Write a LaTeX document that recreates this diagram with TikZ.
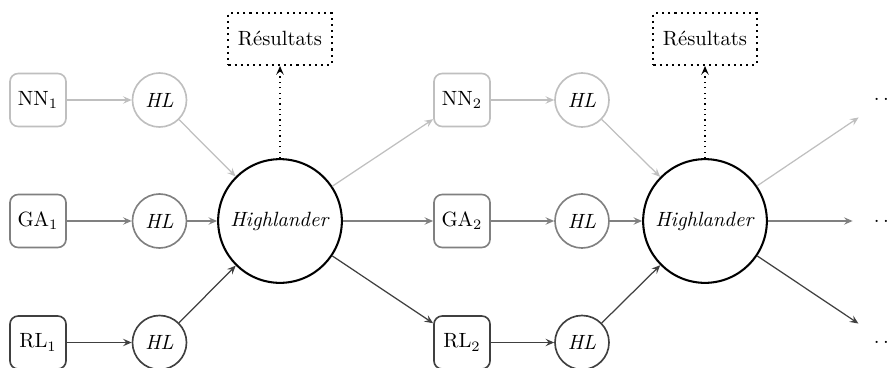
\documentclass[tikz,border=0pt]{standalone}
\usetikzlibrary{arrows.meta}
\begin{document}
\begin{tikzpicture}[x=0.485pt,y=-0.485pt,
  algbox/.style={draw,rounded corners=4pt,line width=0.8pt,minimum width=27.2pt,minimum height=25.7pt,inner sep=1pt},
  hlnode/.style={draw,circle,line width=0.8pt,minimum size=26.2pt,inner sep=0pt},
  hinode/.style={draw,circle,line width=1pt,minimum size=60pt,inner sep=0pt},
  resbox/.style={draw,dotted,line width=1pt,minimum width=50pt,minimum height=25.2pt,inner sep=1pt},
  dotsnode/.style={minimum width=32pt,minimum height=17.5pt,inner sep=0pt},
  conn/.style={line width=0.6pt,-{Stealth[length=4.2pt,width=3.6pt,inset=1.6pt]}},
  light/.style={gray!50},
  mid/.style={gray},
  dark/.style={black!75}]
\useasboundingbox (0,0) rectangle (891,367);
% column 1
\node[algbox,light,text=black] (NN1) at (38,100) {NN$_1$};
\node[algbox,mid,text=black] (GA1) at (38,221) {GA$_1$};
\node[algbox,dark,text=black] (RL1) at (38,342.5) {RL$_1$};
\node[hlnode,light,text=black] (HLn1) at (159.5,100) {\textit{HL}};
\node[hlnode,mid,text=black] (HLg1) at (159.5,221) {\textit{HL}};
\node[hlnode,dark,text=black] (HLr1) at (159.5,342.5) {\textit{HL}};
\node[hinode] (H1) at (280,221) {\textit{Highlander}};
\node[resbox] (R1) at (280,39) {Résultats};
% column 2
\node[algbox,light,text=black] (NN2) at (462,100) {NN$_2$};
\node[algbox,mid,text=black] (GA2) at (462,221) {GA$_2$};
\node[algbox,dark,text=black] (RL2) at (462,342.5) {RL$_2$};
\node[hlnode,light,text=black] (HLn2) at (582,100) {\textit{HL}};
\node[hlnode,mid,text=black] (HLg2) at (582,221) {\textit{HL}};
\node[hlnode,dark,text=black] (HLr2) at (582,342.5) {\textit{HL}};
\node[hinode] (H2) at (705,221) {\textit{Highlander}};
\node[resbox] (R2) at (705,39) {Résultats};
% continuation
\node[dotsnode] (Dn) at (886,99) {$\ldots$};
\node[dotsnode] (Dg) at (886,221) {$\ldots$};
\node[dotsnode] (Dr) at (886,342) {$\ldots$};
% connectors column 1
\draw[conn,light] (NN1) -- (HLn1);
\draw[conn,mid] (GA1) -- (HLg1);
\draw[conn,dark] (RL1) -- (HLr1);
\draw[conn,light] (HLn1) -- (H1);
\draw[conn,mid] (HLg1) -- (H1);
\draw[conn,dark] (HLr1) -- (H1);
\draw[conn,dotted,line width=1pt] (H1) -- (R1);
\draw[conn,light] (H1) -- (NN2);
\draw[conn,mid] (H1) -- (GA2);
\draw[conn,dark] (H1) -- (RL2);
% connectors column 2
\draw[conn,light] (NN2) -- (HLn2);
\draw[conn,mid] (GA2) -- (HLg2);
\draw[conn,dark] (RL2) -- (HLr2);
\draw[conn,light] (HLn2) -- (H2);
\draw[conn,mid] (HLg2) -- (H2);
\draw[conn,dark] (HLr2) -- (H2);
\draw[conn,dotted,line width=1pt] (H2) -- (R2);
\draw[conn,light] (H2) -- (Dn);
\draw[conn,mid] (H2) -- (Dg);
\draw[conn,dark] (H2) -- (Dr);
\end{tikzpicture}
\end{document}
